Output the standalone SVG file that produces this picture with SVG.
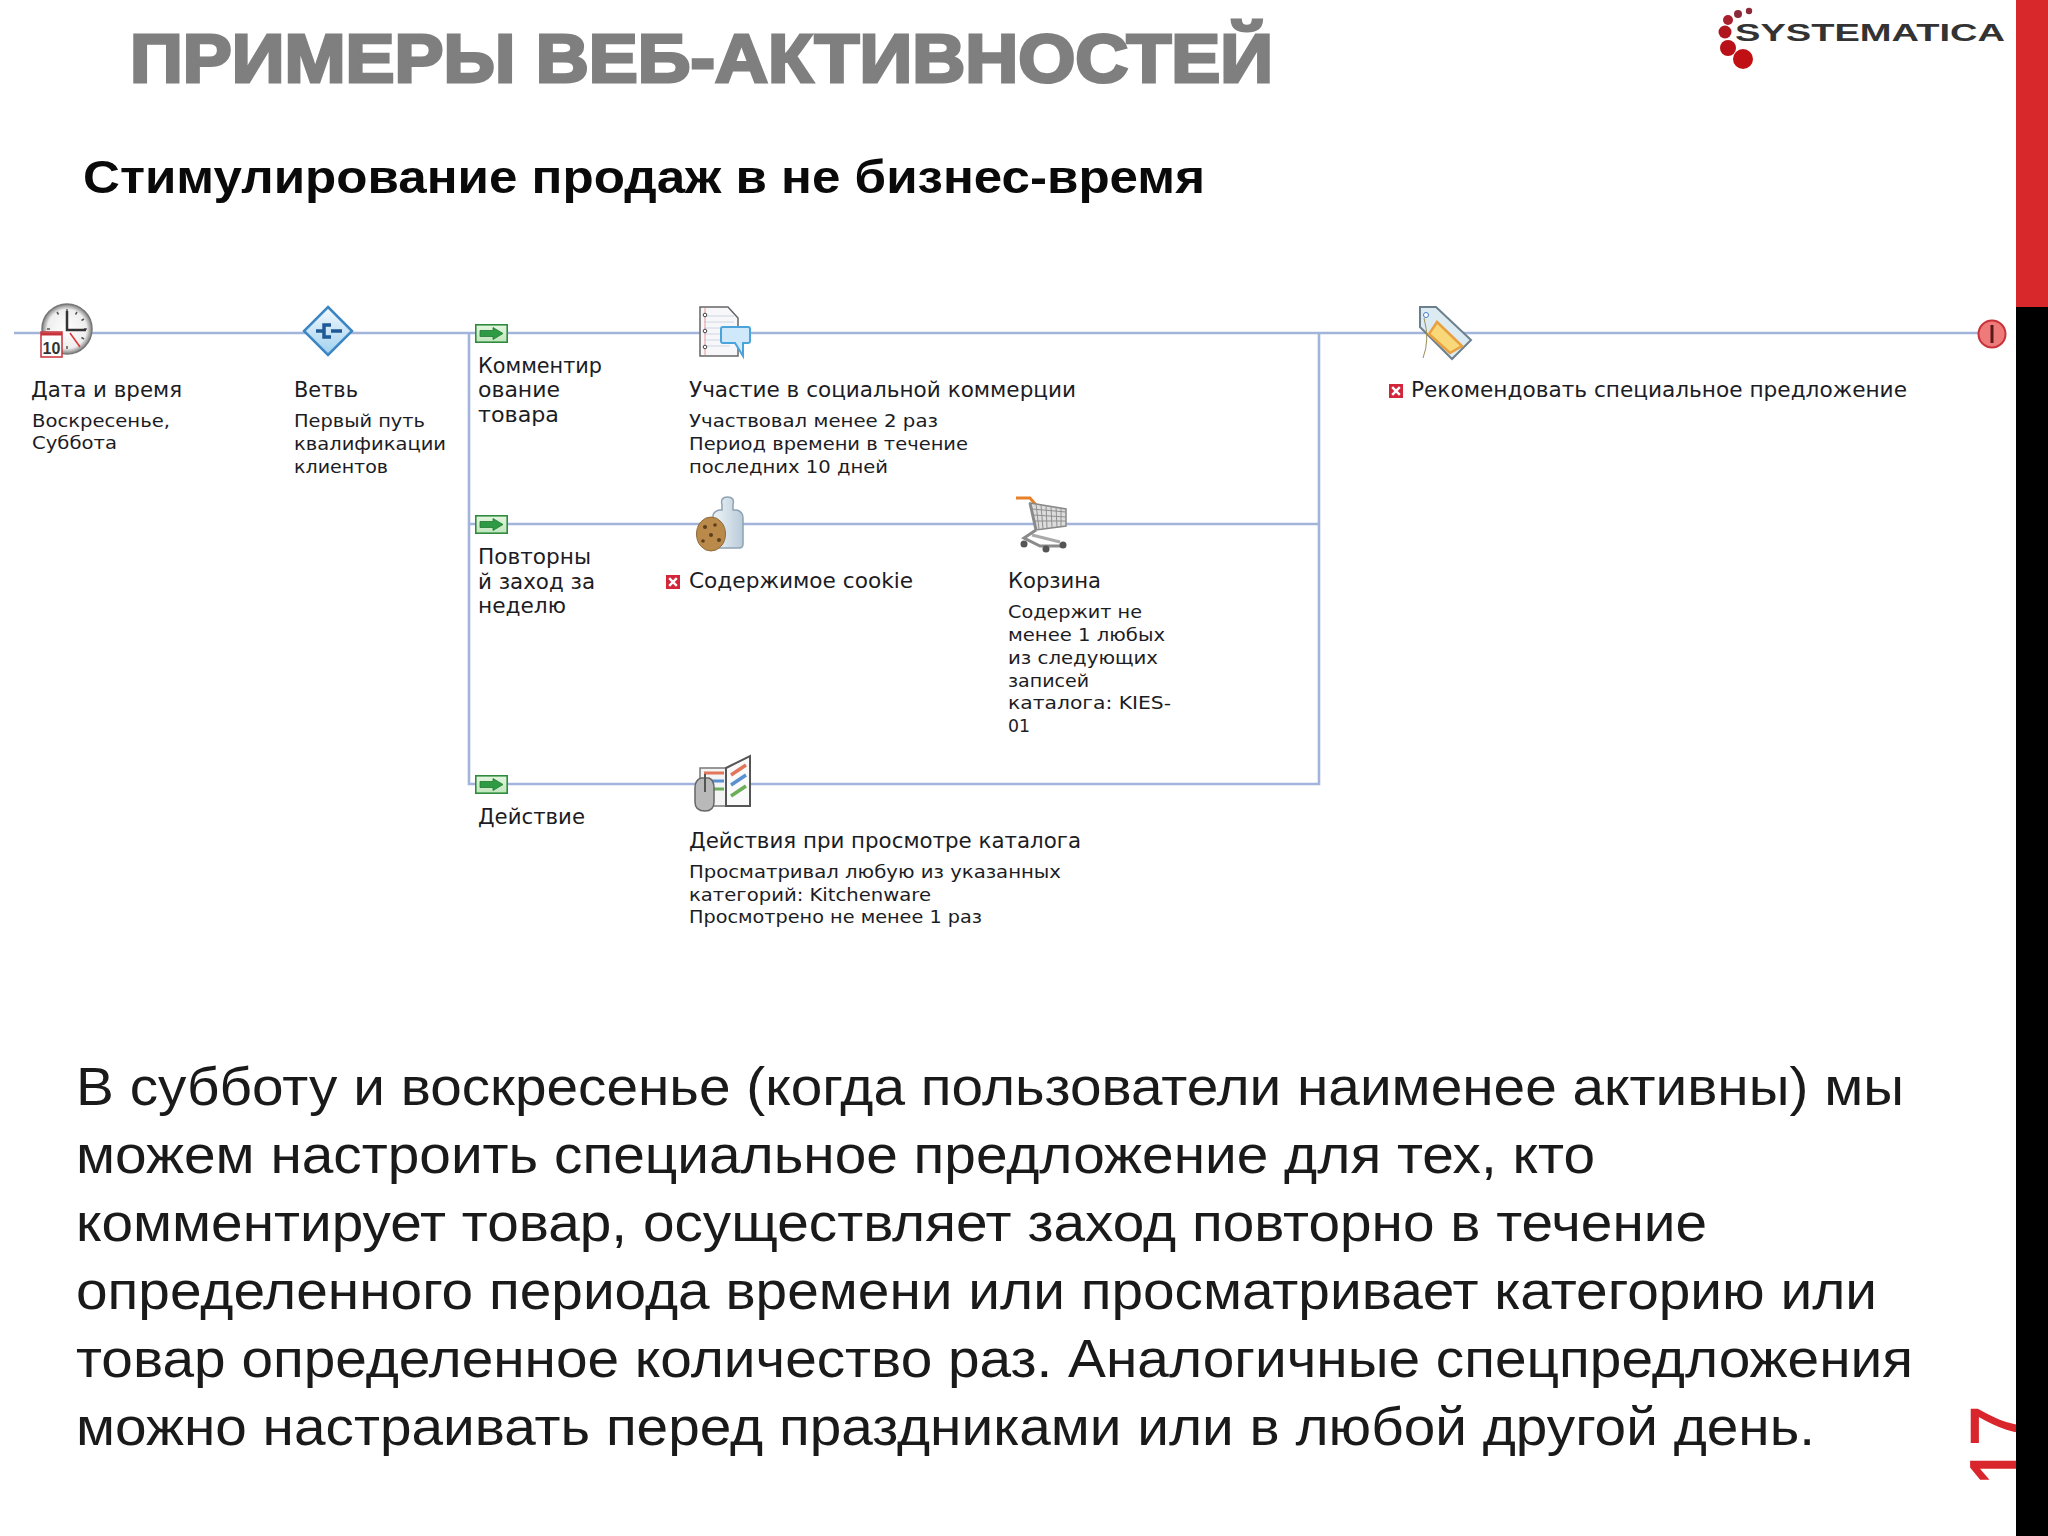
<svg xmlns="http://www.w3.org/2000/svg" width="2048" height="1536" viewBox="0 0 2048 1536">
<style>
text{font-family:"Liberation Sans",Arial,sans-serif}
.t,.s,.b{font-family:"DejaVu Sans","Noto Sans",sans-serif;fill:#1c1c24}
.t,.b{font-size:21.5px}
.s{font-size:18.5px}
.p{font-size:54px;fill:#1a1a1a}
.c{fill:none;stroke:#a3b4da;stroke-width:2.6}
</style>
<defs>
<linearGradient id="gBox" x1="0" y1="0" x2="0" y2="1"><stop offset="0" stop-color="#e4f5df"/><stop offset="1" stop-color="#bfe6bb"/></linearGradient>
<linearGradient id="gDia" x1="0" y1="0" x2="0" y2="1"><stop offset="0" stop-color="#f4fafe"/><stop offset="1" stop-color="#9fd0ee"/></linearGradient>
<linearGradient id="gJar" x1="0" y1="0" x2="1" y2="0"><stop offset="0" stop-color="#eef4f8"/><stop offset="1" stop-color="#b9cbd9"/></linearGradient>
<radialGradient id="gClock"><stop offset="0" stop-color="#fff"/><stop offset="0.78" stop-color="#eee"/><stop offset="1" stop-color="#7f7f7f"/></radialGradient>
<g id="flag"><rect x="0.8" y="0.8" width="31.4" height="17.4" fill="url(#gBox)" stroke="#2e8b3e" stroke-width="1.6"/><path d="M5 6.5H18V3.5L28 9.5 18 15.5V12.5H5Z" fill="#2f9a44" stroke="#1f7a34" stroke-width="0.8"/></g>
<g id="redx"><rect width="14" height="14" fill="#d3263a"/><path d="M3.2 3.2 10.8 10.8M10.8 3.2 3.2 10.8" stroke="#fff" stroke-width="2.4"/></g>
</defs>
<rect width="2048" height="1536" fill="#fff"/>

<g id="title">
<text x="130" y="82" font-size="68" font-weight="700" fill="#7f7f7f" stroke="#7f7f7f" stroke-width="3" textLength="1143" lengthAdjust="spacingAndGlyphs">ПРИМЕРЫ ВЕБ-АКТИВНОСТЕЙ</text>
<text x="83" y="193" font-size="47" font-weight="700" fill="#0a0a0a" textLength="1122" lengthAdjust="spacingAndGlyphs">Стимулирование продаж в не бизнес-время</text>
</g>

<g id="logo">
<circle cx="1749" cy="11" r="3.2" fill="#8c2a3a"/><circle cx="1738" cy="14" r="4" fill="#8c2a3a"/><circle cx="1728" cy="20" r="5" fill="#a8202c"/><circle cx="1725" cy="32" r="6.5" fill="#b0161e"/><circle cx="1728" cy="48" r="8" fill="#b81218"/><circle cx="1743" cy="59" r="10" fill="#c01014"/>
<text x="1735" y="41" font-size="23" font-weight="700" fill="#333" textLength="270" lengthAdjust="spacingAndGlyphs">SYSTEMATICA</text>
</g>

<g id="connectors">
<path class="c" d="M14 333H1992"/>
<path class="c" d="M469 333V784H1319V333"/>
<path class="c" d="M469 524H1319"/>
</g>

<g id="node-datetime">
<circle cx="67" cy="329" r="25" fill="url(#gClock)" stroke="#777" stroke-width="1.5"/>
<path d="M67 309V312M67 346V349M47 329H50M84 329H87M57 312 58.500 314.500M77 312 75.500 314.500M84 319 81.500 320.500M84 339 81.500 337.500" stroke="#555" stroke-width="1.5"/>
<path d="M67 311V330H86" fill="none" stroke="#333" stroke-width="2.500"/>
<path d="M70 333 80 347" stroke="#d33" stroke-width="1.500"/>
<rect x="41" y="332" width="21" height="25" fill="#fff" stroke="#c8323a" stroke-width="1.500"/>
<path d="M41 334H62" stroke="#c8323a" stroke-width="3"/>
<text x="51.500" y="354" font-size="16" font-weight="700" text-anchor="middle" fill="#333">10</text>
<text class="t" x="31" y="397" textLength="151" lengthAdjust="spacingAndGlyphs">Дата и время</text>
<text class="s" x="32" y="427" textLength="138" lengthAdjust="spacingAndGlyphs">Воскресенье,</text>
<text class="s" x="32" y="449" textLength="85" lengthAdjust="spacingAndGlyphs">Суббота</text>
</g>

<g id="node-branch">
<path d="M328 307 352 331 328 355 304 331Z" fill="url(#gDia)" stroke="#3c86c4" stroke-width="2.500"/>
<path d="M342 331H331M331 325H324V337H331M324 331H316" fill="none" stroke="#1f5a96" stroke-width="3.500"/>
<text class="t" x="294" y="397" textLength="64" lengthAdjust="spacingAndGlyphs">Ветвь</text>
<text class="s" x="294" y="427" textLength="131" lengthAdjust="spacingAndGlyphs">Первый путь</text>
<text class="s" x="294" y="450" textLength="152" lengthAdjust="spacingAndGlyphs">квалификации</text>
<text class="s" x="294" y="473" textLength="94" lengthAdjust="spacingAndGlyphs">клиентов</text>
</g>

<g id="node-path1">
<use href="#flag" x="475" y="324"/>
<text class="b" x="478" y="373" textLength="124" lengthAdjust="spacingAndGlyphs">Комментир</text>
<text class="b" x="478" y="397" textLength="82" lengthAdjust="spacingAndGlyphs">ование</text>
<text class="b" x="478" y="422" textLength="81" lengthAdjust="spacingAndGlyphs">товара</text>
</g>

<g id="node-path2">
<use href="#flag" x="475" y="515"/>
<text class="b" x="478" y="564" textLength="113" lengthAdjust="spacingAndGlyphs">Повторны</text>
<text class="b" x="478" y="589" textLength="117" lengthAdjust="spacingAndGlyphs">й заход за</text>
<text class="b" x="478" y="613" textLength="88" lengthAdjust="spacingAndGlyphs">неделю</text>
</g>

<g id="node-path3">
<use href="#flag" x="475" y="775"/>
<text class="b" x="478" y="824" textLength="107" lengthAdjust="spacingAndGlyphs">Действие</text>
</g>

<g id="node-social">
<path d="M700 307H728L738 318V356H700Z" fill="#f7f7f9" stroke="#666" stroke-width="1.500"/>
<path d="M704 316H734M704 322H734M704 328H734M704 334H730M704 340H730M704 346H730" stroke="#cfd6e4"/>
<path d="M705 308V355" stroke="#e79a9a"/>
<circle cx="705" cy="315" r="1.800" fill="#fff" stroke="#444"/><circle cx="705" cy="331" r="1.800" fill="#fff" stroke="#444"/><circle cx="705" cy="347" r="1.800" fill="#fff" stroke="#444"/>
<path d="M723 327H748Q750 327 750 329V341Q750 343 748 343H743V356L735 343H723Q721 343 721 341V329Q721 327 723 327Z" fill="#cfe8fa" stroke="#4aa3da" stroke-width="2"/>
<text class="t" x="689" y="397" textLength="387" lengthAdjust="spacingAndGlyphs">Участие в социальной коммерции</text>
<text class="s" x="689" y="427" textLength="249" lengthAdjust="spacingAndGlyphs">Участвовал менее 2 раз</text>
<text class="s" x="689" y="450" textLength="279" lengthAdjust="spacingAndGlyphs">Период времени в течение</text>
<text class="s" x="689" y="473" textLength="199" lengthAdjust="spacingAndGlyphs">последних 10 дней</text>
</g>

<g id="node-cookie">
<path d="M719 510H722V505Q720 497 727.500 497Q735 497 733 505V510H737Q743 512 743 518V544Q743 548 739 548H719Q713 548 713 544V516Q713 512 719 510Z" fill="url(#gJar)" stroke="#8fa3b3" stroke-width="1.500"/>
<ellipse cx="711" cy="534" rx="14.500" ry="17" fill="#b98a4a" stroke="#8f6a3a"/>
<g fill="#5e3e1c"><circle cx="705" cy="527" r="2"/><circle cx="715" cy="525" r="1.800"/><circle cx="711" cy="535" r="2"/><circle cx="703" cy="541" r="1.800"/><circle cx="719" cy="540" r="2"/></g>
<use href="#redx" x="666" y="575"/>
<text class="t" x="689" y="588" textLength="224" lengthAdjust="spacingAndGlyphs">Содержимое cookie</text>
</g>

<g id="node-cart">
<path d="M1016 498H1030L1036 505" fill="none" stroke="#e8802a" stroke-width="3"/>
<path d="M1030 503 1066 509V526L1036 530Z" fill="#dcdcdc" stroke="#888" stroke-width="1.500"/>
<path d="M1036 504 1039 529M1041 505 1043 529M1046 505 1047 528M1051 506 1052 528M1056 507 1057 527M1061 508 1061 526M1032 509 1066 512M1033 515 1066 517M1035 521 1066 521" stroke="#8f8f8f" fill="none"/>
<path d="M1036 530 1024 538 1040 546H1062M1030 503 1036 530" fill="none" stroke="#8a8a8a" stroke-width="3"/>
<path d="M1032 535 1060 542" stroke="#aaa" stroke-width="3"/>
<circle cx="1024" cy="544" r="3.500" fill="#555"/><circle cx="1046" cy="549" r="3.500" fill="#555"/><circle cx="1063" cy="545" r="3.500" fill="#555"/>
<text class="t" x="1008" y="588" textLength="93" lengthAdjust="spacingAndGlyphs">Корзина</text>
<text class="s" x="1008" y="618" textLength="134" lengthAdjust="spacingAndGlyphs">Содержит не</text>
<text class="s" x="1008" y="641" textLength="157" lengthAdjust="spacingAndGlyphs">менее 1 любых</text>
<text class="s" x="1008" y="664" textLength="150" lengthAdjust="spacingAndGlyphs">из следующих</text>
<text class="s" x="1008" y="687" textLength="81" lengthAdjust="spacingAndGlyphs">записей</text>
<text class="s" x="1008" y="709" textLength="163" lengthAdjust="spacingAndGlyphs">каталога: KIES-</text>
<text class="s" x="1008" y="732" textLength="22" lengthAdjust="spacingAndGlyphs">01</text>
</g>

<g id="node-catalog">
<path d="M700 768H726V806H700Z" fill="#f4f4f4" stroke="#777" stroke-width="1.500"/>
<path d="M726 768 750 756V806H726Z" fill="#fafafa" stroke="#555" stroke-width="2"/>
<path d="M704 773H724" stroke="#e2765a" stroke-width="3"/><path d="M704 781H724" stroke="#5a8fd0" stroke-width="3"/><path d="M704 789H724" stroke="#6aae5a" stroke-width="3"/>
<path d="M731 775 746 765" stroke="#e2765a" stroke-width="3.500"/><path d="M731 785 746 775" stroke="#5a8fd0" stroke-width="3.500"/><path d="M731 796 746 786" stroke="#6aae5a" stroke-width="3.500"/>
<path d="M701 778H709Q714 780 714 788V802Q714 811 705 811Q695 811 695 802V788Q695 780 701 778Z" fill="#b9b9b9" stroke="#666" stroke-width="1.500"/>
<path d="M705 774V792" stroke="#555" stroke-width="2"/>
<text class="b" x="689" y="848" textLength="392" lengthAdjust="spacingAndGlyphs">Действия при просмотре каталога</text>
<text class="s" x="689" y="878" textLength="372" lengthAdjust="spacingAndGlyphs">Просматривал любую из указанных</text>
<text class="s" x="689" y="901" textLength="242" lengthAdjust="spacingAndGlyphs">категорий: Kitchenware</text>
<text class="s" x="689" y="923" textLength="293" lengthAdjust="spacingAndGlyphs">Просмотрено не менее 1 раз</text>
</g>

<g id="node-offer">
<path d="M1420 307H1436L1471 340 1452 359 1420 327Z" fill="#dcebf2" stroke="#6c7f8c" stroke-width="2"/>
<path d="M1437 322 1462 346 1450 353 1429 334Z" fill="#f8d878" stroke="#e8a040" stroke-width="2.500"/>
<circle cx="1426" cy="315" r="2.500" fill="#fff" stroke="#4a78c0"/>
<path d="M1424 318Q1430 340 1423 358" fill="none" stroke="#9a8f5a"/>
<use href="#redx" x="1389" y="384"/>
<text class="t" x="1411" y="397" textLength="496" lengthAdjust="spacingAndGlyphs">Рекомендовать специальное предложение</text>
</g>

<g id="node-end">
<circle cx="1992" cy="334" r="13.500" fill="#ee7a7a" stroke="#c8323a" stroke-width="2"/>
<path d="M1992 325V343" stroke="#5a1a1a" stroke-width="3"/>
</g>

<g id="body">
<text class="p" x="76" y="1105" textLength="1828" lengthAdjust="spacingAndGlyphs">В субботу и воскресенье (когда пользователи наименее активны) мы</text>
<text class="p" x="76" y="1173" textLength="1519" lengthAdjust="spacingAndGlyphs">можем настроить специальное предложение для тех, кто</text>
<text class="p" x="76" y="1241" textLength="1631" lengthAdjust="spacingAndGlyphs">комментирует товар, осуществляет заход повторно в течение</text>
<text class="p" x="76" y="1309" textLength="1801" lengthAdjust="spacingAndGlyphs">определенного периода времени или просматривает категорию или</text>
<text class="p" x="76" y="1377" textLength="1837" lengthAdjust="spacingAndGlyphs">товар определенное количество раз. Аналогичные спецпредложения</text>
<text class="p" x="76" y="1445" textLength="1739" lengthAdjust="spacingAndGlyphs">можно настраивать перед праздниками или в любой другой день.</text>
</g>

<text id="page-number" transform="translate(2030 1486) rotate(-90) scale(1,1.180)" font-size="72" fill="#d9262c" stroke="#d9262c" stroke-width="1.500">17</text>
<rect x="2016" y="0" width="32" height="307" fill="#d9282c"/>
<rect x="2016" y="307" width="32" height="1229" fill="#000"/>
</svg>
